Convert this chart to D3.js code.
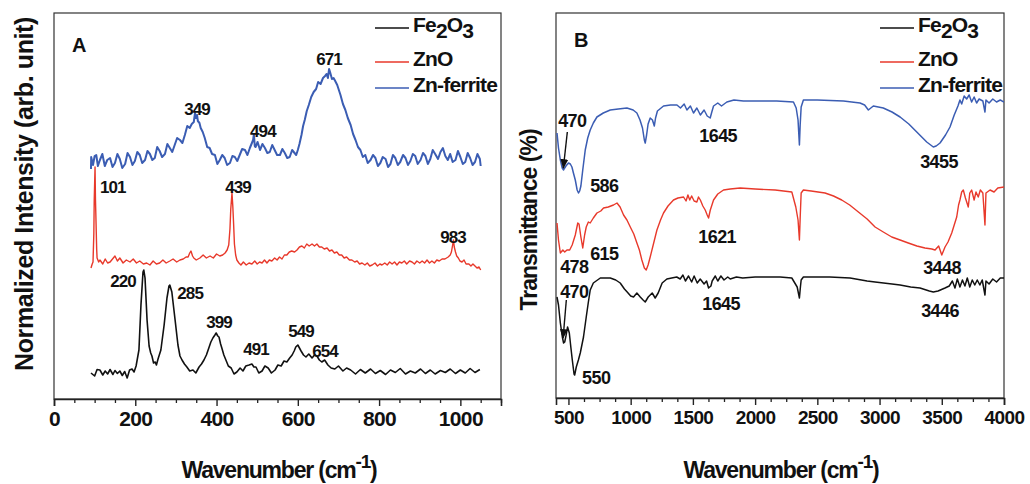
<!DOCTYPE html>
<html>
<head>
<meta charset="utf-8">
<script src="https://cdn.jsdelivr.net/npm/d3@7"></script>
<style>
  body { margin: 0; background: #fff; }
  svg { display: block; }
  text { font-family: "Liberation Sans", Arial, sans-serif; font-weight: bold; fill: #111; }
</style>
</head>
<body>
<svg id="chart" width="1030" height="484"></svg>
<script>
// ---------- Panel A: Raman spectra, [wavenumber (cm-1), normalized intensity, stacked] ----------
const ramanFe2O3 = [
  [91,5.2],[100,4.6],[106,5.9],[113,5.8],[120,4.8],[126,5.6],[132,5.0],[138,5.9],[145,4.9],[150,5.7],
  [156,5.1],[162,5.6],[168,4.7],[174,5.5],[180,4.2],[186,5.8],[192,6.0],[197,5.4],[202,6.6],[209,9.8],
  [214,18.8],[219,25.4],[221,25.8],[224,24.2],[229,15.8],[234,10.6],[238,9.2],[241,8.6],[245,7.2],[249,7.4],
  [252,6.8],[256,8.0],[263,9.8],[271,14.8],[278,20.2],[283,22.6],[285,22.8],[290,21.4],[298,15.8],[305,10.8],
  [310,8.6],[315,7.8],[321,7.0],[327,6.4],[334,5.6],[342,5.8],[349,5.2],[357,6.4],[363,7.0],[369,7.8],
  [375,8.8],[381,10.2],[386,11.4],[391,12.2],[396,12.8],[399,13.2],[403,12.6],[406,12.4],[410,11.0],[413,10.2],
  [418,8.8],[423,7.8],[429,6.6],[436,6.2],[443,5.0],[450,5.4],[458,6.2],[465,5.6],[472,6.6],[480,6.8],
  [487,7.0],[492,6.4],[497,6.4],[504,5.2],[512,5.6],[519,6.6],[527,6.2],[535,5.2],[544,5.8],[551,6.8],
  [559,6.6],[566,7.6],[573,7.4],[580,8.2],[586,8.8],[591,9.6],[595,10.4],[600,10.8],[604,10.2],[608,9.6],
  [614,8.8],[620,8.4],[627,9.0],[635,8.2],[641,8.8],[647,8.6],[653,7.8],[659,7.4],[666,7.8],[674,6.8],
  [682,6.2],[691,6.0],[700,6.6],[711,5.6],[720,6.2],[730,5.8],[742,5.0],[754,5.9],[766,5.2],[779,6.0],
  [791,5.1],[803,5.7],[816,4.9],[828,5.8],[840,5.3],[852,6.1],[865,5.0],[877,5.6],[889,5.2],[902,6.0],
  [914,5.1],[926,5.8],[938,5.0],[951,5.7],[963,5.3],[975,6.0],[988,5.1],[1000,5.8],[1012,5.2],[1024,6.1],
  [1036,5.3],[1048,5.9]
];
const ramanZnO = [
  [91,26.2],[94,27.0],[96,27.4],[98,33.0],[99,39.8],[101,46.4],[102,40.0],[103,36.8],[105,30.0],[106,28.2],
  [110,27.4],[113,27.8],[120,27.0],[126,28.0],[132,27.2],[138,27.4],[144,28.0],[150,28.6],[156,27.6],[162,28.2],
  [170,27.2],[178,27.8],[187,27.4],[195,28.0],[203,27.2],[211,27.6],[220,27.0],[228,27.2],[236,26.8],[244,27.6],
  [252,27.0],[260,27.2],[268,27.8],[276,27.2],[285,27.6],[293,28.0],[302,27.4],[310,27.8],[318,28.0],[325,28.4],
  [330,28.4],[334,29.2],[337,29.6],[341,28.6],[344,28.2],[350,27.8],[359,28.2],[367,28.8],[375,28.2],[384,28.6],
  [392,28.2],[400,29.0],[408,28.6],[415,28.8],[421,29.2],[426,29.8],[430,30.8],[433,34.0],[435,38.0],[438,41.2],
  [440,38.6],[442,35.0],[444,31.0],[447,28.8],[450,27.8],[455,27.2],[460,26.8],[466,27.4],[473,26.8],[480,27.2],
  [487,27.0],[494,27.6],[500,27.0],[506,27.4],[512,27.2],[518,27.8],[524,27.2],[530,27.8],[536,27.6],[543,28.2],
  [549,27.8],[555,28.4],[561,28.0],[567,28.8],[573,28.8],[579,29.4],[585,29.6],[592,29.4],[598,29.8],[604,30.4],
  [610,30.6],[616,30.2],[622,31.0],[628,30.6],[635,31.0],[641,30.6],[647,31.0],[653,30.4],[659,30.4],[665,30.0],
  [672,30.2],[678,29.6],[684,29.8],[690,29.2],[696,29.4],[702,28.8],[708,28.8],[714,28.2],[720,28.4],[727,27.8],
  [733,27.8],[740,27.4],[746,27.6],[752,27.0],[758,27.2],[765,26.8],[771,27.2],[777,26.6],[783,26.8],[790,27.2],
  [796,26.6],[802,27.0],[807,26.8],[814,27.2],[820,26.8],[826,27.4],[832,27.0],[838,27.4],[844,26.8],[850,27.4],
  [856,27.2],[862,27.6],[868,27.0],[875,27.6],[881,27.4],[887,27.0],[893,27.6],[900,27.2],[906,27.6],[912,27.2],
  [918,27.8],[924,27.2],[930,27.6],[936,27.2],[942,27.8],[948,27.6],[955,28.0],[962,28.0],[966,28.2],[970,28.4],
  [975,28.8],[978,29.4],[981,30.8],[983,31.8],[985,30.4],[988,29.4],[991,28.6],[995,28.2],[999,27.6],[1004,27.4],
  [1009,27.8],[1014,27.0],[1021,27.0],[1026,26.6],[1031,27.0],[1036,26.6],[1041,26.2],[1046,26.4],[1050,25.8]
];
const ramanZnFerrite = [
  [91,46.0],[91.5,48.4],[96,46.8],[100,48.6],[104,48.8],[108,46.6],[113,47.8],[119,49.0],[125,46.6],[131,47.8],
  [138,48.2],[144,46.4],[150,47.2],[156,49.0],[162,48.0],[168,46.2],[175,47.0],[181,49.2],[187,48.4],[193,46.8],
  [199,47.6],[205,49.4],[211,48.8],[217,47.2],[224,47.8],[230,49.6],[236,49.0],[242,47.8],[248,48.2],[254,50.4],
  [260,49.6],[266,48.4],[273,49.0],[279,51.0],[285,50.2],[291,49.4],[297,50.8],[303,52.2],[310,51.8],[316,51.2],
  [322,52.8],[328,54.6],[334,54.2],[339,55.0],[344,55.4],[347,57.2],[349,56.2],[352,56.8],[354,55.6],[358,55.2],
  [361,54.2],[366,53.4],[371,52.2],[377,50.4],[383,50.2],[389,49.0],[396,48.8],[402,47.0],[408,47.8],[414,48.8],
  [420,48.2],[426,46.8],[433,47.2],[439,48.6],[445,48.4],[451,47.6],[457,48.8],[463,50.0],[470,49.8],[476,48.8],
  [482,50.2],[486,51.0],[490,51.8],[492,53.0],[494,50.6],[496,50.4],[501,51.4],[507,49.8],[513,51.0],[519,50.2],
  [525,49.2],[531,49.4],[537,50.8],[543,49.8],[549,48.8],[556,48.8],[562,50.0],[568,49.2],[574,48.2],[580,48.4],
  [586,49.8],[592,49.2],[596,48.8],[600,49.8],[604,51.0],[609,52.8],[613,54.6],[617,55.8],[622,57.6],[627,58.8],
  [633,60.4],[639,61.4],[645,62.0],[650,63.4],[656,63.0],[662,64.2],[667,64.6],[671,65.0],[674,64.2],[677,66.0],
  [680,65.2],[684,64.0],[688,64.2],[692,63.6],[697,62.8],[701,61.8],[705,60.8],[711,59.0],[717,57.8],[723,56.2],
  [730,54.8],[736,53.0],[742,51.8],[748,50.4],[754,49.8],[760,48.4],[766,48.8],[772,47.2],[779,47.8],[785,48.8],
  [791,48.2],[797,46.6],[803,47.2],[809,48.4],[816,48.0],[822,46.4],[828,47.0],[834,48.8],[840,48.2],[846,46.8],
  [852,47.4],[859,48.8],[865,48.2],[871,46.8],[877,47.6],[883,49.0],[889,48.6],[895,47.0],[902,47.8],[908,49.2],
  [914,48.6],[920,47.0],[926,48.0],[932,49.8],[938,49.0],[945,48.0],[951,49.4],[957,50.2],[963,48.6],[969,47.8],
  [975,49.0],[981,47.4],[988,47.8],[994,49.6],[1000,48.4],[1006,47.0],[1012,47.4],[1018,49.2],[1024,48.2],[1030,46.8],
  [1036,47.4],[1042,49.0],[1048,48.0],[1050,46.6]
];

// ---------- Panel B: FTIR spectra, [wavenumber (cm-1), transmittance, stacked] ----------
const ftirFe2O3 = [
  [408,20.2],[420,18.6],[435,15.0],[451,12.2],[461,11.0],[470,11.2],[480,12.4],[493,14.2],[507,13.0],[520,10.0],
  [531,7.6],[545,4.8],[550,4.6],[563,6.2],[580,7.6],[595,9.0],[621,12.2],[643,16.2],[659,19.0],[675,21.6],
  [700,23.0],[756,24.0],[836,24.0],[880,23.6],[916,23.0],[950,21.8],[972,21.2],[1000,20.4],[1023,20.2],[1050,21.0],
  [1077,20.2],[1100,19.6],[1117,19.2],[1141,20.2],[1173,21.0],[1197,20.0],[1221,21.0],[1253,23.0],[1291,23.8],[1330,24.0],
  [1370,24.2],[1398,23.8],[1420,24.6],[1440,23.4],[1465,24.4],[1490,23.2],[1510,24.4],[1535,23.0],[1559,23.8],[1590,22.8],
  [1610,23.4],[1626,22.0],[1645,22.4],[1655,23.4],[1680,24.4],[1700,23.4],[1725,24.4],[1750,23.6],[1780,24.2],[1800,23.8],
  [1850,24.2],[1900,24.0],[2000,24.2],[2201,24.2],[2295,24.0],[2338,22.2],[2356,20.0],[2364,22.2],[2370,23.6],[2388,24.2],
  [2600,24.2],[2763,24.0],[2900,23.4],[2964,23.2],[3100,22.8],[3165,22.6],[3250,22.2],[3325,22.0],[3400,21.4],[3432,21.2],
  [3470,21.4],[3526,22.0],[3560,22.4],[3585,23.4],[3606,22.0],[3625,23.8],[3646,22.2],[3666,23.6],[3686,22.4],[3705,24.0],
  [3725,22.2],[3745,23.6],[3765,22.6],[3785,23.6],[3806,22.6],[3825,23.6],[3847,20.6],[3855,23.4],[3880,22.8],[3910,23.8],
  [3940,23.2],[3970,24.0],[4000,24.0]
];
const ftirZnO = [
  [408,35.0],[420,31.6],[435,29.0],[455,29.6],[470,29.2],[488,29.6],[510,29.6],[530,30.6],[555,32.6],[575,35.0],
  [585,34.8],[600,32.2],[615,30.0],[630,32.6],[643,34.2],[660,35.2],[675,35.0],[700,36.0],[729,37.0],[760,37.4],
  [782,38.0],[820,38.2],[862,38.6],[890,39.0],[915,38.2],[943,36.6],[970,35.6],[997,34.2],[1025,32.8],[1050,31.0],
  [1070,29.6],[1090,27.6],[1110,26.0],[1125,25.6],[1140,26.6],[1157,28.2],[1185,31.0],[1211,33.6],[1240,35.6],[1264,37.0],
  [1300,38.4],[1344,39.6],[1380,40.0],[1425,40.2],[1445,39.4],[1460,40.6],[1475,39.6],[1490,40.4],[1510,39.4],[1532,39.2],
  [1545,40.2],[1560,39.6],[1580,38.4],[1599,37.6],[1615,36.6],[1626,36.0],[1640,37.6],[1666,39.6],[1700,40.8],[1746,41.6],
  [1800,41.8],[1880,42.0],[2000,41.8],[2161,41.6],[2295,41.2],[2327,38.2],[2345,35.6],[2356,31.6],[2363,36.6],[2370,41.0],
  [2388,41.6],[2450,41.4],[2562,41.0],[2630,40.4],[2696,39.6],[2760,38.6],[2830,37.2],[2900,35.8],[2964,34.2],[3030,33.2],
  [3098,32.2],[3165,31.6],[3231,31.0],[3300,30.4],[3365,30.0],[3420,29.8],[3446,29.6],[3475,30.4],[3500,28.6],[3526,30.2],
  [3550,31.2],[3580,33.0],[3600,34.6],[3620,36.2],[3635,38.6],[3646,39.6],[3660,41.2],[3673,41.6],[3690,40.0],[3713,38.2],
  [3725,41.0],[3740,41.6],[3760,39.6],[3775,41.2],[3793,40.2],[3810,41.6],[3830,41.0],[3847,34.6],[3855,41.0],[3888,41.6],
  [3920,41.2],[3950,42.0],[4000,42.2]
];
const ftirZnFerrite = [
  [408,53.0],[420,50.0],[435,47.6],[450,46.0],[461,45.6],[470,46.0],[480,46.4],[500,47.0],[515,46.8],[528,46.2],
  [540,45.0],[555,43.6],[570,41.6],[581,41.0],[590,41.4],[600,42.4],[615,45.6],[635,49.6],[655,52.0],[675,53.6],
  [700,55.0],[729,56.2],[780,57.0],[836,57.6],[900,57.8],[970,58.0],[1020,57.6],[1050,57.0],[1075,55.6],[1095,54.0],
  [1110,51.6],[1117,51.0],[1128,52.6],[1140,54.8],[1157,56.0],[1175,55.6],[1190,54.4],[1200,56.0],[1215,57.4],[1264,58.4],
  [1320,58.6],[1372,58.6],[1400,58.0],[1430,58.8],[1452,57.6],[1480,58.4],[1505,57.0],[1532,58.0],[1560,56.6],[1590,57.6],
  [1615,56.4],[1639,56.0],[1652,57.2],[1666,58.4],[1700,59.0],[1730,58.4],[1773,59.2],[1830,59.6],[1906,59.4],[2000,59.4],
  [2174,59.4],[2308,59.2],[2330,58.0],[2345,55.6],[2356,50.6],[2362,54.6],[2370,58.2],[2388,59.6],[2500,59.6],[2710,59.4],
  [2843,59.0],[2880,58.6],[2910,57.6],[2950,58.4],[3030,58.0],[3100,57.2],[3165,56.2],[3235,54.8],[3299,53.2],[3379,51.2],
  [3432,50.2],[3455,50.4],[3486,51.0],[3530,52.6],[3566,54.2],[3600,56.6],[3630,58.4],[3646,59.6],[3660,58.8],[3680,60.4],
  [3700,59.8],[3720,60.6],[3740,59.2],[3760,60.2],[3780,59.0],[3800,59.8],[3830,59.4],[3847,57.2],[3855,59.6],[3880,59.0],
  [3910,59.8],[3940,59.2],[3970,59.6],[4000,59.2]
];

const seriesNames = ["Fe2O3", "ZnO", "Zn-ferrite"];
const ramanTicks = [0, 200, 400, 600, 800, 1000];
const ftirTicks = [500, 1000, 1500, 2000, 2500, 3000, 3500, 4000];

// Peak annotations: label text and where it sits, in the panel's data units
const ramanPeakLabels = ["349", "494", "671", "101", "439", "983", "220", "285", "399", "491", "549", "654"];
const ramanLabelAt = [[352,56.8],[514,52.4],[677,66.8],[113,41.2],[453,41.2],[982,31.2],[170,22.4],[335,20.0],[406,14.2],[497,8.8],[608,12.4],[667,8.4]];
const ramanLabelAnchor = ["middle","middle","middle","start","middle","middle","middle","middle","middle","middle","middle","middle"];
const ftirPeakLabels = ["470", "586", "1645", "3455", "478", "615", "1621", "3448", "470", "1645", "3446", "550"];
const ftirLabelAt = [[531,54.2],[788,41.2],[1703,51.2],[3478,46.0],[547,25.0],[788,27.6],[1695,31.0],[3502,24.8],[547,20.0],[1727,17.6],[3486,16.2],[723,2.8]];
// Pointer arrows from a label to its band: [from, to]
const ftirArrows = [[[491,53.2],[459,46.0]], [[483,19.6],[457,12.0]]];

const colors = ["#111111", "#e8392b", "#3b5db3"];

const svg = d3.select("#chart");

function drawPanel(cfg) {
  const g = svg.append("g");
  const x = d3.scaleLinear().domain(cfg.xDomain).range([cfg.left, cfg.right]);
  const y = d3.scaleLinear().domain(cfg.yDomain).range([cfg.bottom, cfg.top]);

  const clipId = "clip-" + cfg.letter;
  svg.append("clipPath").attr("id", clipId).append("rect")
    .attr("x", cfg.left).attr("y", cfg.top)
    .attr("width", cfg.right - cfg.left).attr("height", cfg.bottom - cfg.top);

  // frame
  g.append("rect")
    .attr("x", cfg.left).attr("y", cfg.top)
    .attr("width", cfg.right - cfg.left).attr("height", cfg.bottom - cfg.top)
    .attr("fill", "none").attr("stroke", "#333").attr("stroke-width", 1.2);

  // spectra
  const line = d3.line().x(d => x(d[0])).y(d => y(d[1]));
  g.append("g").attr("clip-path", `url(#${clipId})`)
    .selectAll("path").data(cfg.series).join("path")
    .attr("d", d => line(d))
    .attr("fill", "none")
    .attr("stroke", (d, i) => colors[i])
    .attr("stroke-width", (d, i) => cfg.lineWidth[i])
    .attr("stroke-linejoin", "round");

  // bottom axis with major and minor ticks
  const minorTicks = d3.range(cfg.minorStart, cfg.xDomain[1] + 1e-6, cfg.minorStep)
    .filter(v => !cfg.ticks.includes(v));
  const axMinor = d3.axisBottom(x).tickValues(minorTicks).tickSize(4).tickFormat("");
  const axMajor = d3.axisBottom(x).tickValues(cfg.ticks).tickSize(7).tickPadding(5).tickFormat(d3.format("d"));
  const gm = g.append("g").attr("transform", `translate(0,${cfg.bottom})`).call(axMinor);
  gm.select(".domain").remove();
  gm.selectAll("line").attr("stroke", "#222").attr("stroke-width", 1.3);
  const ga = g.append("g").attr("transform", `translate(0,${cfg.bottom})`).call(axMajor);
  ga.select(".domain").attr("stroke", "#222").attr("stroke-width", 1.6);
  ga.selectAll("line").attr("stroke", "#222").attr("stroke-width", 1.4);
  ga.selectAll("text")
    .attr("font-family", '"Liberation Sans", Arial, sans-serif')
    .attr("font-weight", "bold")
    .attr("font-size", cfg.tickFont)
    .attr("letter-spacing", cfg.tickSpacing)
    .attr("fill", "#111")
    .attr("dy", "0.72em");

  // x title with superscript
  const xt = g.append("text")
    .attr("x", cfg.xTitleX).attr("y", 478)
    .attr("text-anchor", "middle")
    .attr("font-size", 23).attr("letter-spacing", -1.2);
  xt.append("tspan").text("Wavenumber (cm");
  xt.append("tspan").attr("font-size", 19).attr("dy", -10).text("-1");
  xt.append("tspan").attr("dy", 10).text(")");

  // y title
  g.append("text")
    .attr("transform", `translate(${cfg.yTitleX},${cfg.yTitleY}) rotate(-90)`)
    .attr("text-anchor", "middle")
    .attr("font-size", cfg.yTitleFont).attr("letter-spacing", cfg.yTitleSpacing)
    .text(cfg.yTitle);

  // panel letter
  g.append("text").attr("x", cfg.left + 18).attr("y", cfg.letterY)
    .attr("font-size", 20).text(cfg.letter);

  // peak labels
  g.append("g").selectAll("text").data(cfg.labels).join("text")
    .attr("x", (d, i) => x(cfg.labelAt[i][0]))
    .attr("y", (d, i) => y(cfg.labelAt[i][1]))
    .attr("text-anchor", (d, i) => cfg.labelAnchor ? cfg.labelAnchor[i] : "middle")
    .attr("font-size", cfg.labelFont)
    .attr("letter-spacing", cfg.labelSpacing)
    .text(d => d);

  // arrows
  if (cfg.arrows) {
    svg.append("defs").append("marker")
      .attr("id", "arrowhead").attr("viewBox", "0 0 10 10")
      .attr("refX", 9).attr("refY", 5)
      .attr("markerWidth", 7).attr("markerHeight", 9)
      .attr("orient", "auto-start-reverse")
      .append("path").attr("d", "M0,1 L10,5 L0,9 Z").attr("fill", "#111");
    g.append("g").selectAll("line").data(cfg.arrows).join("line")
      .attr("x1", d => x(d[0][0])).attr("y1", d => y(d[0][1]))
      .attr("x2", d => x(d[1][0])).attr("y2", d => y(d[1][1]))
      .attr("stroke", "#111").attr("stroke-width", 1.4)
      .attr("marker-end", "url(#arrowhead)");
  }

  // legend
  const lg = g.append("g");
  const rows = [28, 62, 88];
  seriesNames.forEach((name, i) => {
    lg.append("line")
      .attr("x1", cfg.legendX).attr("x2", cfg.legendX + 34)
      .attr("y1", rows[i]).attr("y2", rows[i])
      .attr("stroke", colors[i]).attr("stroke-width", 1.4);
    const t = lg.append("text")
      .attr("x", cfg.legendX + 38).attr("y", rows[i] + 4)
      .attr("font-size", 21).attr("letter-spacing", -0.8);
    if (name === "Fe2O3") {
      t.append("tspan").text("Fe");
      t.append("tspan").attr("dy", 6).text("2");
      t.append("tspan").attr("dy", -6).text("O");
      t.append("tspan").attr("dy", 6).text("3");
    } else {
      t.text(name);
    }
  });
}

drawPanel({
  letter: "A", left: 54, right: 501, top: 13, bottom: 399,
  xDomain: [0, 1100], yDomain: [0, 77.2],
  series: [ramanFe2O3, ramanZnO, ramanZnFerrite],
  ticks: ramanTicks, minorStart: 0, minorStep: 50,
  tickFont: 21, tickSpacing: -0.6, lineWidth: [1.6, 1.4, 2.0],
  xTitleX: 279, yTitle: "Normalized Intensity (arb. unit)",
  yTitleX: 33, yTitleY: 194, yTitleFont: 25, yTitleSpacing: -0.4,
  letterY: 52,
  labels: ramanPeakLabels, labelAt: ramanLabelAt, labelAnchor: ramanLabelAnchor,
  labelFont: 17, labelSpacing: -0.9,
  legendX: 375
});

drawPanel({
  letter: "B", left: 556, right: 1004, top: 13, bottom: 398,
  xDomain: [400, 4000], yDomain: [0, 77],
  series: [ftirFe2O3, ftirZnO, ftirZnFerrite],
  ticks: ftirTicks, minorStart: 500, minorStep: 125,
  tickFont: 19, tickSpacing: -0.6, lineWidth: [1.5, 1.4, 1.5],
  xTitleX: 781, yTitle: "Transmittance (%)",
  yTitleX: 537, yTitleY: 220, yTitleFont: 23, yTitleSpacing: -1,
  letterY: 47,
  labels: ftirPeakLabels, labelAt: ftirLabelAt,
  labelFont: 18, labelSpacing: -0.6,
  arrows: ftirArrows,
  legendX: 880
});
</script>
</body>
</html>
